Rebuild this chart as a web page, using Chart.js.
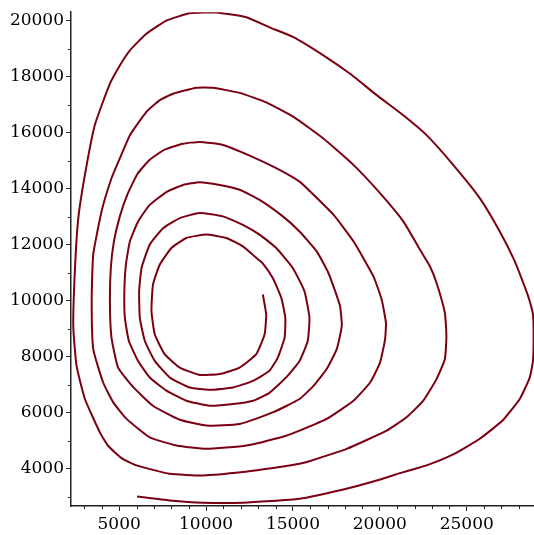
<!DOCTYPE html>
<html>
<head>
<meta charset="utf-8">
<script src="https://cdn.jsdelivr.net/npm/chart.js@4/dist/chart.umd.min.js"></script>
<style>
  html, body { margin: 0; padding: 0; background: #fff; }
  #wrap { width: 534px; height: 535px; }
</style>
</head>
<body>
<div id="wrap"><canvas id="phaseChart" width="534" height="535"></canvas></div>
<script>
// trajectory (x = prey, y = predator), in drawing order
const preyValues = [
  6030, 7910, 9820, 12120, 15380, 17900, 19820, 21350, 22690, 24220, 25750, 27090, 28050, 28620, 28810, 28850, 28810,
  28620, 28430, 27760, 26900, 25750, 24220, 22690, 21350, 19820, 18290, 16750, 15030, 13650, 12320, 10590, 9060,
  7720, 6570, 5620, 5040, 4470, 3600, 3030, 2650, 2460, 2360, 2550, 3030, 3890, 4350, 5160, 6000, 7910, 9820, 12120, 14230, 15380,
  15800, 18090, 20390, 21540, 22500, 23260, 23740, 23830, 23740, 23260, 22880, 22310, 21350, 20010, 18480, 16750, 15030, 13460, 11930, 10400, 9450,
  8100, 7340, 6570, 5620, 5040, 4560, 3990, 3510, 3420, 3510, 4080, 4660, 5430, 6760, 8300, 10020, 12320, 14610, 15380,
  16940, 18480, 19440, 20010, 20300, 20350, 20100, 19630, 18480, 17330, 15990, 15380, 14040, 12510, 10970, 9630,
  8660, 7620, 6760, 6070, 5500, 5040, 4700, 4520, 4470, 4560, 4940, 5790, 6940, 8490, 10020, 11930, 13840, 15380,
  16180, 16940, 17520, 17810, 17710, 17430, 17040, 16370, 15380, 14420, 13080, 11930, 10780, 9630,
  8680, 7720, 6760, 6090, 5620, 5390, 5300, 5330, 5560, 6090, 6760, 7720, 8870, 10210, 11550, 12700, 13650,
  14610, 15380, 15850, 15950, 15660, 14990, 14040, 13080, 12120, 10970, 9630,
  8490, 7530, 6760, 6290, 6150, 6190, 6480, 7050, 7910, 9060, 10210, 11550, 12700, 13650,
  14130, 14520, 14560, 14330, 13840, 13250, 12890, 12120, 11170, 10020,
  8870, 8010, 7340, 6950, 6860, 7050, 7620, 8490, 9630, 10780, 11930, 12890, 13370, 13460, 13270
];
const predatorValues = [
  3010, 2870, 2790, 2790, 2930, 3260, 3580, 3880, 4120, 4510, 5070, 5740, 6490, 7250, 7850, 8740, 9520,
  9990, 10340, 11410, 12470, 13660, 14850, 15910, 16620, 17340, 18100, 18760, 19410, 19760, 20120, 20290, 20260,
  20000, 19530, 18940, 18400, 17750, 16270, 14490, 12950, 11170, 9100, 7670, 6490, 5300, 4830, 4370, 4120, 3820, 3760, 3880, 4060, 4180,
  4240, 4710, 5360, 5840, 6430, 7200, 7910, 8740, 9570, 10640, 11230, 11820, 12830, 13840, 14850, 15790, 16560, 17080, 17420, 17600, 17600,
  17390, 17160, 16740, 15910, 15080, 14370, 13190, 11650, 10050, 8270, 7080, 6370, 5780, 5120, 4830, 4710, 4830, 5180, 5360,
  5780, 6430, 7080, 7790, 8620, 9210, 10050, 10870, 12120, 13070, 13900, 14250, 14730, 15180, 15560, 15670,
  15600, 15390, 15030, 14540, 13830, 13010, 12120, 11160, 9870, 8680, 7610, 6930, 6250, 5750, 5540, 5600, 6010, 6490,
  6960, 7560, 8270, 9100, 9810, 10340, 10990, 11760, 12470, 13010, 13600, 13960, 14130, 14230,
  14130, 13880, 13420, 12830, 12120, 11290, 10340, 9390, 8560, 7850, 7260, 6790, 6430, 6250, 6310, 6430, 6710,
  7260, 7850, 8560, 9390, 10340, 11170, 11880, 12360, 12710, 13010, 13130,
  12950, 12590, 12000, 11170, 10340, 9390, 8560, 7850, 7260, 6900, 6820, 6900, 7140, 7500,
  7970, 8680, 9390, 10100, 10810, 11340, 11530, 11940, 12240, 12360,
  12240, 11880, 11290, 10580, 9630, 8800, 8090, 7610, 7350, 7380, 7610, 8090, 8800, 9510, 10220
];

const xMajorTicks = [5000, 10000, 15000, 20000, 25000];
const xMinorTicks = [3000, 4000, 6000, 7000, 8000, 9000, 11000, 12000, 13000, 14000, 16000, 17000, 18000, 19000, 21000, 22000, 23000, 24000, 26000, 27000, 28000];
const yMajorTicks = [4000, 6000, 8000, 10000, 12000, 14000, 16000, 18000, 20000];
const yMinorTicks = [3000, 5000, 7000, 9000, 11000, 13000, 15000, 17000, 19000];

const axisColor = "#222";
const curveColor = "#7a0012";
const tickFont = { family: "'DejaVu Serif', serif", size: 17 };

const points = preyValues.map((x, i) => ({ x, y: predatorValues[i] }));

// short unlabeled ticks between the labelled ones
const minorTicks = {
  id: "minorTicks",
  afterDraw(chart) {
    const { ctx, scales } = chart;
    ctx.save();
    ctx.strokeStyle = axisColor;
    ctx.lineWidth = 1;
    ctx.beginPath();
    xMinorTicks.forEach((v) => {
      const px = Math.round(scales.x.getPixelForValue(v)) + 0.5;
      ctx.moveTo(px, scales.x.top);
      ctx.lineTo(px, scales.x.top + 3);
    });
    yMinorTicks.forEach((v) => {
      const py = Math.round(scales.y.getPixelForValue(v)) + 0.5;
      ctx.moveTo(scales.y.right - 3, py);
      ctx.lineTo(scales.y.right, py);
    });
    ctx.stroke();
    ctx.restore();
  },
};

new Chart(document.getElementById("phaseChart"), {
  type: "scatter",
  data: {
    datasets: [
      {
        data: points,
        showLine: true,
        borderColor: curveColor,
        borderWidth: 2,
        pointRadius: 0,
        tension: 0.15,
        fill: false,
      },
    ],
  },
  options: {
    responsive: false,
    animation: false,
    devicePixelRatio: 1,
    layout: { padding: { top: 10, right: 0, left: 0, bottom: 0 } },
    plugins: { legend: { display: false }, tooltip: { enabled: false } },
    scales: {
      x: {
        type: "linear",
        min: 2230,
        max: 28870,
        afterBuildTicks: (s) => { s.ticks = xMajorTicks.map((v) => ({ value: v })); },
        afterFit: (s) => { s.height = 29; },
        border: { display: true, color: axisColor, width: 1.5 },
        grid: { drawOnChartArea: false, drawTicks: true, tickLength: 5, tickColor: axisColor },
        ticks: { color: "#000", font: tickFont, padding: 3, maxRotation: 0, callback: (v) => String(v) },
      },
      y: {
        type: "linear",
        min: 2670,
        max: 20300,
        afterBuildTicks: (s) => { s.ticks = yMajorTicks.map((v) => ({ value: v })); },
        afterFit: (s) => { s.width = 71; },
        border: { display: true, color: axisColor, width: 1.5 },
        grid: { drawOnChartArea: false, drawTicks: true, tickLength: 5, tickColor: axisColor },
        ticks: { color: "#000", font: tickFont, padding: 2, callback: (v) => String(v) },
      },
    },
  },
  plugins: [minorTicks],
});
</script>
</body>
</html>
